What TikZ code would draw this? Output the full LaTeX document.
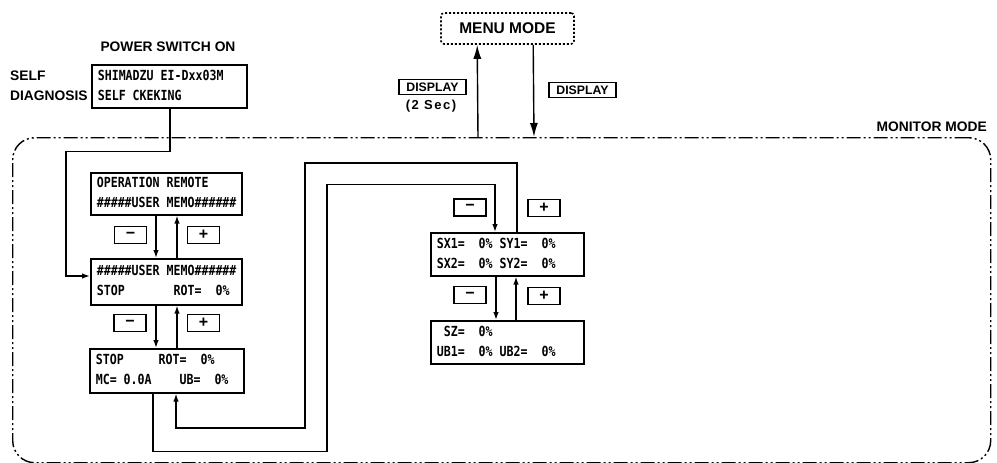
\documentclass[tikz,border=0pt]{standalone}
\usepackage{fontspec}
\setmainfont{Liberation Sans}
\newfontfamily\lcdfamily{DejaVu Sans Mono}
\usetikzlibrary{arrows.meta}
\newcommand{\lcdtext}[2]{\scalebox{1}[1.2]{\begin{tabular}{@{}l@{}}#1\\#2\end{tabular}}}
\newcommand{\sk}{\hspace*{0.602em}}
\begin{document}
\begin{tikzpicture}[x=1pt,y=-1pt,
  lcd/.style={draw, line width=1.6pt, anchor=north west, inner xsep=6pt, inner ysep=0pt, align=left,
    font=\lcdfamily\bfseries\fontsize{11.6}{16.7}\selectfont},
  key/.style={draw, line width=1.6pt, minimum width=32pt, minimum height=17pt, inner sep=0pt,
    font=\bfseries\fontsize{16}{16}\selectfont},
  lab/.style={font=\bfseries\fontsize{13.8}{14}\selectfont, inner sep=0pt},
  conn/.style={line width=1.4pt},
  arr/.style={conn, -{Latex[length=8pt,width=5.5pt]}},
  bigarr/.style={conn, -{Latex[length=14pt,width=8pt]}}
]
\useasboundingbox (0,0) rectangle (997,463);

% monitor mode region
\node[draw, line width=1.4pt, dash pattern=on 14pt off 3pt on 2pt off 3pt on 2pt off 3pt,
  rounded corners=22pt, minimum width=978pt, minimum height=325pt, anchor=north west, inner sep=0pt]
  (mon) at (12,137) {};
\node[lab, anchor=east] (monlab) at (987,127) {MONITOR MODE};

% menu mode
\node[draw, dash pattern=on 2pt off 2pt, line width=1.6pt, rounded corners=3pt,
  minimum width=133pt, minimum height=31pt, font=\bfseries\fontsize{15.5}{16}\selectfont]
  (menu) at (507.5,28.5) {MENU MODE};
\draw[bigarr] ([xshift=466pt]mon.north west) -- ([xshift=37pt]menu.south west);
\draw[bigarr] ([xshift=93pt]menu.south west) -- ([xshift=522pt]mon.north west);
\node[key, minimum width=67pt, minimum height=15pt, font=\bfseries\fontsize{12.3}{12}\selectfont] (d1) at (432.5,87) {DISPLAY};
\node[inner sep=0pt, font=\bfseries\fontsize{13}{13}\selectfont\addfontfeatures{LetterSpace=12}] (sec) at (431,106) {(2 Sec)};
\node[key, minimum width=67pt, minimum height=15pt, font=\bfseries\fontsize{12.3}{12}\selectfont] (d2) at (582.5,90) {DISPLAY};

% self diagnosis
\node[lab] (pwr) at (168,47) {POWER SWITCH ON};
\node[lab, anchor=west] (self) at (10,76) {SELF};
\node[lab, anchor=west] (diag) at (10,96) {DIAGNOSIS};
\node[lcd, minimum height=43pt, text width=143pt] (SD) at (91,64) {\lcdtext{SHIMADZU\sk EI-Dxx03M}{SELF\sk CKEKING}};

% left column
\node[lcd, minimum height=42pt, text width=139pt] (A) at (90,172)
  {\lcdtext{OPERATION\sk REMOTE}{\#\#\#\#\#USER\sk MEMO\#\#\#\#\#\#}};
\node[lcd, minimum height=46pt, text width=139pt] (B) at (90,258)
  {\lcdtext{\#\#\#\#\#USER\sk MEMO\#\#\#\#\#\#}{STOP\sk\sk\sk\sk\sk\sk\sk ROT=\sk\sk 0\%}};
\node[lcd, minimum height=44pt, text width=142pt] (C) at (89,348)
  {\lcdtext{STOP\sk\sk\sk\sk\sk ROT=\sk\sk 0\%}{MC=\sk 0.0A\sk\sk\sk\sk UB=\sk\sk 0\%}};

% right column
\node[lcd, minimum height=43pt, text width=141pt] (SX) at (430,232)
  {\lcdtext{SX1=\sk\sk 0\%\sk SY1=\sk\sk 0\%}{SX2=\sk\sk 0\%\sk SY2=\sk\sk 0\%}};
\node[lcd, minimum height=43pt, text width=141pt] (SZ) at (430,320)
  {\lcdtext{\sk SZ=\sk\sk 0\%}{UB1=\sk\sk 0\%\sk UB2=\sk\sk 0\%}};

% keys
\node[key] (kAm) at (130.5,235) {−};
\node[key] (kAp) at (203.5,235) {+};
\node[key] (kBm) at (130,323) {−};
\node[key] (kBp) at (203.5,323) {+};
\node[key] (kSm) at (470,207.5) {−};
\node[key] (kSp) at (544,208) {+};
\node[key] (kZm) at (470,295) {−};
\node[key] (kZp) at (544,296) {+};

% connectors
\draw[arr] ([xshift=79pt]SD.south west) |- ++(-104,43) |- ([yshift=-18pt]B.north west);
\draw[arr] ([xshift=66pt]A.south west) -- ([xshift=66pt]B.north west);
\draw[arr] ([xshift=87pt]B.north west) -- ([xshift=87pt]A.south west);
\draw[arr] ([xshift=66pt]B.south west) -- ([xshift=67pt]C.north west);
\draw[arr] ([xshift=88pt]C.north west) -- ([xshift=87pt]B.south west);
\draw[arr] ([xshift=66pt]SX.south west) -- ([xshift=66pt]SZ.north west);
\draw[arr] ([xshift=86pt]SZ.north west) -- ([xshift=86pt]SX.south west);
\draw[arr] ([xshift=64pt]C.south west) -- ++(0,58) -- ++(174,0) -- ++(0,-267) -| ([xshift=65pt]SX.north west);
\draw[arr] ([xshift=87pt]SX.north west) -- ++(0,-69) -- ++(-212,0) -- ++(0,265) -| ([xshift=87pt]C.south west);
\end{tikzpicture}
\end{document}
